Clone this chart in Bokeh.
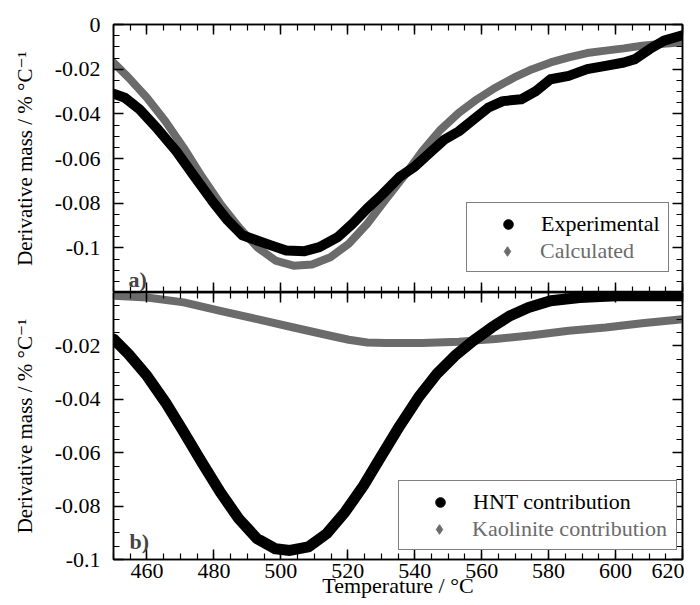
from bokeh.plotting import figure
from bokeh.models import (Range1d, FixedTicker, NumeralTickFormatter, LinearAxis,
                          Legend, LegendItem, Label)
from bokeh.layouts import column
from bokeh.embed import file_html
from bokeh.resources import INLINE

# ---------------- data ----------------
# panel a) : experimental vs calculated DTG
temp_exp = [450, 453.4, 457.8, 463.3, 468.8, 474.2, 479.7, 484.1, 488.5, 492.9, 497.3,
            501.6, 507.1, 511.5, 517, 521.4, 525.8, 530.1, 535.6, 540, 544.4, 548.8,
            553.2, 557.5, 561.9, 566.3, 571.8, 576.2, 580.6, 586, 591.5, 597, 602.5,
            605.8, 610.2, 614.5, 620]
deriv_exp = [-0.0310, -0.0328, -0.0380, -0.0470, -0.0568, -0.0681, -0.0794, -0.0877,
             -0.0944, -0.0967, -0.0990, -0.1012, -0.1015, -0.0997, -0.0952, -0.0892,
             -0.0824, -0.0764, -0.0681, -0.0636, -0.0576, -0.0516, -0.0478, -0.0426,
             -0.0373, -0.0343, -0.0335, -0.0298, -0.0245, -0.0230, -0.0200, -0.0185,
             -0.0170, -0.0155, -0.0110, -0.0072, -0.0048]

temp_calc = [450, 454.5, 460, 465.5, 471, 476.4, 481.9, 487.4, 492.9, 498.4, 503.8,
             509.3, 514.8, 520.3, 525.8, 531.2, 536.7, 542.2, 547.7, 553.2, 558.6,
             564.1, 569.6, 575.1, 580.6, 586, 591.5, 597, 602.5, 607.9, 613.4, 620]
deriv_calc = [-0.0170, -0.0238, -0.0328, -0.0433, -0.0553, -0.0681, -0.0802, -0.0907,
              -0.0997, -0.1057, -0.1080, -0.1075, -0.1042, -0.0982, -0.0892, -0.0786,
              -0.0681, -0.0568, -0.0471, -0.0395, -0.0335, -0.0283, -0.0238, -0.0200,
              -0.0170, -0.0147, -0.0128, -0.0117, -0.0107, -0.0095, -0.0087, -0.0080]

# panel b) : contributions
temp_hnt = [450, 454.5, 460, 465.5, 471, 476.4, 481.9, 487.4, 492.9, 498.4, 502.7,
            508.2, 513.7, 519.2, 524.7, 530.1, 535.6, 541.1, 546.6, 552, 557.5, 563,
            568.5, 574, 580.6, 589.3, 600.3, 611.3, 620]
deriv_hnt = [-0.0174, -0.0231, -0.0312, -0.0411, -0.0523, -0.0636, -0.0748, -0.0847,
             -0.0922, -0.0960, -0.0966, -0.0953, -0.0903, -0.0822, -0.0723, -0.0611,
             -0.0498, -0.0393, -0.0305, -0.0237, -0.0181, -0.0131, -0.0087, -0.0056,
             -0.0031, -0.0019, -0.0012, -0.0012, -0.0012]

temp_kao = [450, 460, 471, 481.9, 492.9, 503.8, 514.8, 520.3, 525.8, 531.2, 542.2,
            553.2, 564.1, 575.1, 586, 597, 607.9, 620]
deriv_kao = [-0.0012, -0.0019, -0.0037, -0.0069, -0.0100, -0.0131, -0.0162, -0.0177,
             -0.0187, -0.0189, -0.0189, -0.0184, -0.0174, -0.0160, -0.0143, -0.0131,
             -0.0115, -0.0100]

x_major = [460, 480, 500, 520, 540, 560, 580, 600, 620]
x_minor = [450, 455, 460, 465, 470, 475, 480, 485, 490, 495, 500, 505, 510, 515, 520,
           525, 530, 535, 540, 545, 550, 555, 560, 565, 570, 575, 580, 585, 590, 595,
           600, 605, 610, 615, 620]
ya_major = [0, -0.02, -0.04, -0.06, -0.08, -0.1]
yb_major = [-0.02, -0.04, -0.06, -0.08, -0.1]
y_minor = [0, -0.005, -0.01, -0.015, -0.02, -0.025, -0.03, -0.035, -0.04, -0.045, -0.05,
           -0.055, -0.06, -0.065, -0.07, -0.075, -0.08, -0.085, -0.09, -0.095, -0.1,
           -0.105, -0.11, -0.115, -0.12]

legend_a = ["Experimental", "Calculated"]
legend_b = ["HNT contribution", "Kaolinite contribution"]
y_title = "Derivative mass / % °C\u207b\u00b9"
x_title = "Temperature / °C"

# ---------------- styling ----------------
FONT = "Liberation Serif, Times New Roman, Times, DejaVu Serif, serif"
GRAY = "#6b6b6b"
W = 684
xr = Range1d(450, 620)


def make_fig(height, yr, border_top, border_bottom):
    p = figure(width=W, height=height, x_range=xr, y_range=Range1d(*yr),
               x_axis_location=None, y_axis_location=None,
               toolbar_location=None, output_backend="svg",
               min_border_left=113, min_border_right=2,
               min_border_top=border_top, min_border_bottom=border_bottom)
    p.outline_line_color = "black"
    p.outline_line_width = 1.5
    p.background_fill_color = "white"
    p.border_fill_color = "white"
    p.grid.grid_line_color = None
    return p


def make_axis(ticks, minor, show=False):
    ax = LinearAxis(ticker=FixedTicker(ticks=ticks, minor_ticks=minor),
                    major_tick_in=10, major_tick_out=0,
                    minor_tick_in=6, minor_tick_out=0,
                    axis_line_color="black", axis_line_width=1.5,
                    major_tick_line_color="black", minor_tick_line_color="black",
                    major_tick_line_width=1.5, minor_tick_line_width=1.2)
    if show:
        ax.major_label_text_font = FONT
        ax.major_label_text_font_size = "22px"
        ax.major_label_text_color = "black"
        ax.axis_label_text_font = FONT
        ax.axis_label_text_font_size = "22px"
        ax.axis_label_text_font_style = "normal"
        ax.axis_label_text_color = "black"
    else:
        ax.major_label_text_font_size = "0px"
        ax.major_label_text_alpha = 0
        ax.major_label_standoff = 0
    return ax


def add_axes(p, yticks, bottom_labels):
    left = make_axis(yticks, y_minor, show=True)
    left.formatter = NumeralTickFormatter(format="0.[00]")
    left.axis_label = y_title
    left.axis_label_text_font_size = "21px"
    left.major_label_standoff = 13
    left.axis_label_standoff = 15
    p.add_layout(left, "left")
    p.add_layout(make_axis(yticks, y_minor), "right")
    p.add_layout(make_axis(x_major, x_minor), "above")
    if bottom_labels:
        below = make_axis(x_major, x_minor, show=True)
        below.axis_label = x_title
        below.major_label_standoff = 4
        below.axis_label_standoff = -8
        p.add_layout(below, "below")
    else:
        p.add_layout(make_axis(x_major, x_minor), "below")


def add_legend(p, labels, marker_renderers, label_colors, loc):
    pad = 8
    pad_b = 2
    common = dict(glyph_width=66, glyph_height=24, label_standoff=0,
                  label_text_font=FONT, label_text_font_size="22px",
                  label_height=24, spacing=0,
                  background_fill_color="white", background_fill_alpha=1.0)
    a = Legend(items=[LegendItem(label=l, renderers=[r])
                      for l, r in zip(labels, marker_renderers)],
               location=loc, padding=pad, border_line_color="black",
               border_line_width=1.5, label_text_color=label_colors[0], **common)
    # second row re-drawn on top so that its label gets its own (grey) colour
    b = Legend(items=[LegendItem(label=labels[1], renderers=[marker_renderers[1]])],
               location=(loc[0] + pad - pad_b, loc[1] + pad - pad_b), padding=pad_b,
               border_line_alpha=0, label_text_color=label_colors[1], **common)
    p.add_layout(a, "center")
    p.add_layout(b, "center")


# ---------------- panel a ----------------
p1 = make_fig(292, (-0.12, 0), 24, 0)
add_axes(p1, ya_major, False)
m_calc = p1.scatter(temp_calc, deriv_calc, marker="diamond", size=4, color=GRAY)
m_exp = p1.scatter(temp_exp, deriv_exp, marker="circle", size=4, color="black")
p1.line(temp_calc, deriv_calc, line_width=8, line_color=GRAY,
        line_join="round", line_cap="round")
p1.line(temp_exp, deriv_exp, line_width=10, line_color="black",
        line_join="round", line_cap="round")
add_legend(p1, legend_a, [m_exp, m_calc], ["black", GRAY], (353, 20))
p1.add_layout(Label(x=15, y=13, x_units="screen", y_units="screen", text="a)",
                    text_font=FONT, text_font_size="22px", text_font_style="bold",
                    text_baseline="alphabetic"))

# ---------------- panel b ----------------
p2 = make_fig(312, (-0.1, 0), 0, 45)
add_axes(p2, yb_major, True)
m_kao = p2.scatter(temp_kao, deriv_kao, marker="diamond", size=4, color=GRAY)
m_hnt = p2.scatter(temp_hnt, deriv_hnt, marker="circle", size=4, color="black")
p2.line(temp_kao, deriv_kao, line_width=8, line_color=GRAY,
        line_join="round", line_cap="round")
p2.line(temp_hnt, deriv_hnt, line_width=11, line_color="black",
        line_join="round", line_cap="round")
add_legend(p2, legend_b, [m_hnt, m_kao], ["black", GRAY], (285, 9))
p2.add_layout(Label(x=16, y=18, x_units="screen", y_units="screen", text="b)",
                    text_font=FONT, text_font_size="22px", text_font_style="bold",
                    text_baseline="alphabetic"))

layout = column(p1, p2, spacing=0)
open("out.html", "w").write(file_html(layout, INLINE))
